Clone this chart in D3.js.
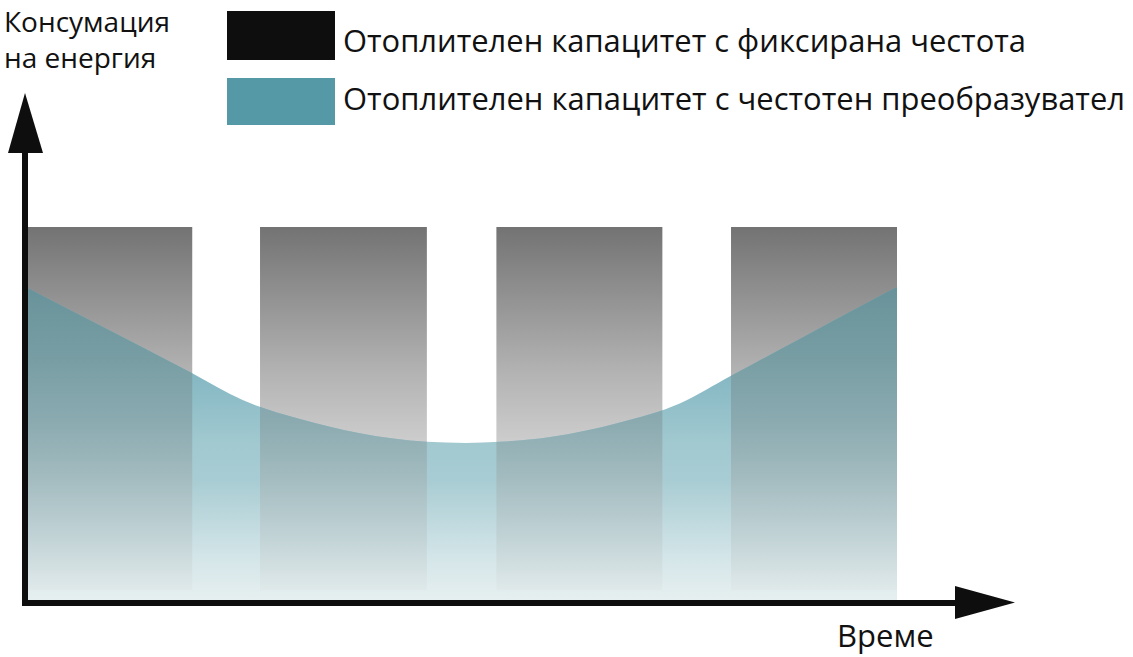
<!DOCTYPE html>
<meta charset="utf-8">
<style>
body { margin: 0; background: #fff; }
text { font-family: "Open Sans", "Noto Sans", sans-serif; fill: #111; }
</style>
<svg width="1133" height="657"></svg>
<script src="https://d3js.org/d3.v7.min.js"></script>
<script>
// data (time 0..100, energy 0..100)
var time = [0, 8.3, 18.9, 24.7, 31.3, 38.2, 45.9, 50.4, 54.3, 60.1, 68.1, 75.0, 80.9, 88.8, 95.7, 100];
var inverterEnergy = [83.6, 73.6, 60.8, 53.6, 48.5, 44.7, 42.4, 42.1, 42.4, 43.7, 47.6, 52.7, 60.1, 70.0, 78.6, 83.9];
var onStart = [0, 26.7, 53.9, 80.9];
var onEnd = [18.9, 45.9, 73.0, 100];
var fixedLevel = 100, fixedBase = 2.7;
var legendLabels = ["Отоплителен капацитет с фиксирана честота", "Отоплителен капацитет с честотен преобразувател"];
var yLabelLines = ["Консумация", "на енергия"];
var xLabel = "Време";

var svg = d3.select("svg");

var x = d3.scaleLinear().domain([0, 100]).range([28, 897]);
var y = d3.scaleLinear().domain([0, 100]).range([600, 227]);

var bars = onStart.map(function(s, i) { return {start: s, end: onEnd[i]}; });
var curve = time.map(function(t, i) { return {t: t, v: inverterEnergy[i]}; });

var defs = svg.append("defs");
function grad(id, stops) {
  var g = defs.append("linearGradient").attr("id", id)
      .attr("gradientUnits", "userSpaceOnUse")
      .attr("x1", 0).attr("x2", 0).attr("y1", y(100)).attr("y2", y(0));
  stops.forEach(function(s) {
    g.append("stop").attr("offset", (s[0] - y(100)) / (y(0) - y(100))).attr("stop-color", s[1]);
  });
}
grad("barGray", [[227, "#737373"], [373, "#b3b3b3"], [440, "#cccccc"], [520, "#e0e0e0"], [590, "#f2f2f2"]]);
grad("gapTeal", [[287, "#6eaab8"], [380, "#87b9c4"], [445, "#a2c9d0"], [480, "#a8ccd3"], [560, "#d5e6e9"], [600, "#e6eff0"]]);
grad("mixTeal", [[287, "#68929a"], [360, "#789ea4"], [420, "#8aaab0"], [480, "#a4bcc0"], [540, "#c3d4d7"], [590, "#dfe9ea"]]);

var area = d3.area()
    .x(function(d) { return x(d.t); })
    .y0(y(0))
    .y1(function(d) { return y(d.v); })
    .curve(d3.curveMonotoneX);

defs.append("clipPath").attr("id", "areaClip")
  .append("path").attr("d", area(curve));

function drawBars(g, fill) {
  g.selectAll("rect")
    .data(bars)
    .enter().append("rect")
      .attr("x", function(d) { return x(d.start); })
      .attr("width", function(d) { return x(d.end) - x(d.start); })
      .attr("y", y(fixedLevel))
      .attr("height", y(fixedBase) - y(fixedLevel))
      .attr("fill", fill);
}

// fixed frequency bars
drawBars(svg.append("g"), "url(#barGray)");

// inverter curve area
svg.append("path")
    .attr("d", area(curve))
    .attr("fill", "url(#gapTeal)");

// where bars and area overlap
drawBars(svg.append("g").attr("clip-path", "url(#areaClip)"), "url(#mixTeal)");

// axes with arrows
var axisColor = "#0e0e0e";
svg.append("line")
    .attr("x1", 25).attr("x2", 25).attr("y1", 150).attr("y2", 606)
    .attr("stroke", axisColor).attr("stroke-width", 6);
svg.append("line")
    .attr("x1", 22).attr("x2", 958).attr("y1", 603).attr("y2", 603)
    .attr("stroke", axisColor).attr("stroke-width", 6);
svg.append("path")
    .attr("d", "M25,93L43,153L8,153Z")
    .attr("fill", axisColor);
svg.append("path")
    .attr("d", "M1015,602.5L955,586L955,619Z")
    .attr("fill", axisColor);

// legend
var legendColors = ["#0e0e0e", "#5598a6"];
var legendBox = [[11, 49], [78, 47]];
var legendBase = [52, 110];
var legendWidth = [683, 782];
legendLabels.forEach(function(lbl, i) {
  svg.append("rect")
      .attr("x", 227).attr("y", legendBox[i][0])
      .attr("width", 108).attr("height", legendBox[i][1])
      .attr("fill", legendColors[i]);
  svg.append("text")
      .attr("x", 343).attr("y", legendBase[i])
      .attr("font-size", 31)
      .attr("textLength", legendWidth[i])
      .attr("lengthAdjust", "spacingAndGlyphs")
      .text(lbl);
});

// axis labels (kept fully inside the page)
svg.append("text")
    .attr("x", 4).attr("y", 32)
    .attr("font-size", 28)
    .text(yLabelLines[0]);
svg.append("text")
    .attr("x", 4).attr("y", 68)
    .attr("font-size", 28)
    .text(yLabelLines[1]);
svg.append("text")
    .attr("x", 837).attr("y", 647)
    .attr("font-size", 31)
    .text(xLabel);
</script>
